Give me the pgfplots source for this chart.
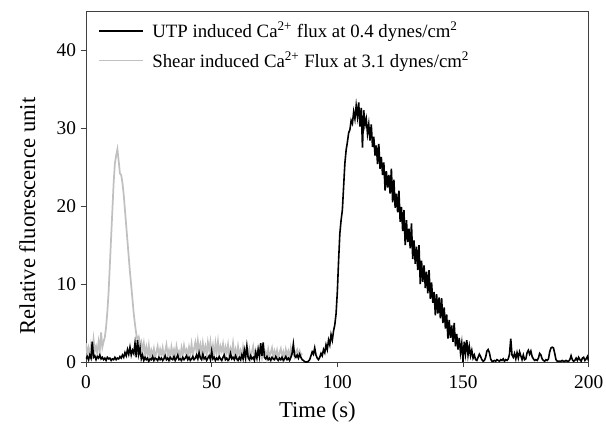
\documentclass[border=0pt]{standalone}
\usepackage{fontspec}
\setmainfont{Liberation Serif}
\usepackage{pgfplots}
\pgfplotsset{compat=1.18}
\definecolor{shear}{RGB}{192,192,192}

\begin{document}
\begin{tikzpicture}
\useasboundingbox (-64.5pt,-54.75pt) rectangle (390pt,271.5pt);
\begin{axis}[
    at={(0,0)}, anchor=south west,
    scale only axis,
    width=377pt, height=263pt,
    xmin=0, xmax=200, ymin=0, ymax=45,
    xtick={0,50,100,150,200},
    ytick={0,10,20,30,40},
    xtick pos=left, ytick pos=left,
    tick align=outside,
    major tick length=4pt,
    axis line style={black!75, line width=0.6pt},
    every tick/.style={black!75, line width=0.6pt},
    tick label style={font=\fontsize{14.5}{17}\selectfont},
    xticklabel style={yshift=-3pt},
    /pgf/number format/assume math mode=true,
    xlabel={Time (s)},
    ylabel={Relative fluorescence unit},
    label style={font=\fontsize{17}{20}\selectfont},
    xlabel style={yshift=-3pt, xshift=-15pt},
    ylabel style={yshift=9pt, xshift=-22pt},
    legend cell align=left,
    legend style={draw=none, fill=none, at={(0.016,0.985)}, anchor=north west,
      font=\fontsize{14.1}{17}\selectfont, row sep=5pt},
    legend image code/.code={\draw[#1] (0pt,0pt) -- (33pt,0pt); \path (37pt,0pt);},
]
\addlegendimage{black, line width=1.5pt}
\addlegendentry{UTP induced Ca\textsuperscript{2+} flux at 0.4 dynes/cm\textsuperscript{2}}
\addlegendimage{shear, line width=0.8pt}
\addlegendentry{Shear induced Ca\textsuperscript{2+} Flux at 3.1 dynes/cm\textsuperscript{2}}

% shear induced flux (grey)
\addplot[shear, line width=1.3pt, forget plot] table {
x y
0 2.4
0.5 1.0
1 1.8
1.5 0.8
2 2.2
2.5 1.2
3 2.9
3.5 1.4
4 2.0
4.5 1.1
5 2.6
5.5 1.5
6 3.8
6.5 1.9
7 2.6
7.5 3.2
8 4.5
8.5 6.5
9 9.0
9.5 12.5
10 16.0
10.5 19.5
11 23.0
11.5 25.5
12 26.5
12.5 27.3
13 25.8
13.5 24.2
14 24.0
14.5 23.0
15 21.5
15.5 19.5
16 17.5
16.5 15.5
17 13.5
17.5 11.5
18 9.8
18.5 8.0
19 6.2
19.5 4.8
20 3.6
20.5 2.8
21 3.2
21.5 2.2
22 2.6
22.5 1.4
23 2.4
23.5 1.0
24 1.9
24.5 0.8
25 2.1
25.5 0.6
26 1.5
26.5 0.9
27 1.7
27.5 0.5
28 1.3
28.5 2.0
29 0.7
29.5 1.6
30 0.9
30.5 1.8
31 0.6
31.5 1.4
32 2.2
32.5 0.8
33 1.5
33.5 0.5
34 1.9
34.5 1.0
35 1.6
35.5 0.7
36 2.0
36.5 1.1
37 1.4
37.5 0.6
38 1.8
38.5 0.9
39 2.1
39.5 1.2
40 1.6
40.5 0.8
41 1.9
41.5 1.1
42 2.3
42.5 0.9
43 1.7
43.5 2.5
44 1.2
44.5 2.7
45 1.4
45.5 2.2
46 0.9
46.5 2.4
47 1.3
47.5 2.0
48 0.8
48.5 2.5
49 1.5
49.5 2.6
50 1.0
50.5 2.1
51 0.7
51.5 2.4
52 1.2
52.5 2.6
53 0.9
53.5 2.0
54 1.4
54.5 2.3
55 0.8
55.5 1.9
56 1.2
56.5 2.2
57 0.6
57.5 1.7
58 1.1
58.5 2.4
59 0.9
59.5 1.6
60 0.6
60.5 2.0
61 1.0
61.5 1.5
62 0.5
62.5 1.9
63 0.8
63.5 1.4
64 2.1
64.5 0.7
65 1.6
65.5 0.5
66 1.3
66.5 2.0
67 0.8
67.5 1.5
68 0.6
68.5 1.8
69 1.0
69.5 1.4
70 0.5
70.5 1.7
71 0.9
71.5 1.3
72 0.4
72.5 1.6
73 0.7
73.5 1.2
74 1.8
74.5 0.6
75 1.4
75.5 0.8
76 1.5
76.5 0.5
77 1.2
77.5 1.7
78 0.7
78.5 1.3
79 0.5
79.5 1.6
80 0.9
80.5 1.4
81 0.6
81.5 1.8
82 1.0
82.5 1.5
83 0.7
83.5 1.3
84 1.6
84.5 0.8
85 1.4
85.5 0.9
86 1.1
};

% UTP induced flux (black)
\addplot[black, line width=1.2pt, forget plot] table {
x y
0 0.4
0.5 0.7
1 0.3
1.5 0.9
2 0.5
2.5 2.6
3 0.6
3.5 0.8
4 0.3
4.5 0.7
5 0.5
5.5 0.9
6 0.4
6.5 0.6
7 0.3
7.5 0.5
8 0.2
8.5 0.6
9 0.4
9.5 0.5
10 0.2
10.5 0.4
11 0.3
11.5 0.6
12 0.3
12.5 0.5
13 0.4
13.5 0.7
14 0.5
14.5 0.9
15 0.6
15.5 1.2
16 0.8
16.5 1.6
17 1.0
17.5 1.9
18 0.9
18.5 1.5
19 1.1
19.5 2.4
20 0.6
20.5 2.8
21 1.0
21.5 1.8
22 0.4
22.5 0.9
23 0.2
23.5 0.6
24 0.3
24.5 0.5
25 0.1
25.5 0.4
26 0.3
26.5 0.7
27 0.2
27.5 0.5
28 0.4
28.5 0.2
29 0.6
29.5 0.3
30 0.5
30.5 0.2
31 0.4
31.5 0.8
32 0.3
32.5 0.5
33 0.2
33.5 0.6
34 0.4
34.5 0.3
35 0.7
35.5 0.2
36 0.5
36.5 0.9
37 0.3
37.5 0.4
38 0.2
38.5 0.6
39 0.3
39.5 0.5
40 0.8
40.5 0.3
41 0.6
41.5 0.2
42 0.4
42.5 0.7
43 0.3
43.5 0.5
44 0.9
44.5 0.4
45 1.2
45.5 0.5
46 0.3
46.5 1.0
47 0.4
47.5 0.6
48 0.2
48.5 0.5
49 0.8
49.5 0.3
50 1.4
50.5 0.4
51 0.6
51.5 0.2
52 0.5
52.5 0.3
53 0.7
53.5 0.4
54 0.2
54.5 0.6
55 0.9
55.5 0.3
56 0.5
56.5 0.2
57 0.4
57.5 1.1
58 0.4
58.5 0.6
59 0.3
59.5 0.8
60 0.4
60.5 0.2
61 0.6
61.5 0.3
62 0.9
62.5 0.4
63 1.5
63.5 0.5
64 2.0
64.5 0.6
65 0.3
65.5 0.8
66 0.4
66.5 0.6
67 0.2
67.5 1.2
68 0.5
68.5 1.6
69 0.7
69.5 2.4
70 0.8
70.5 2.5
71 0.6
71.5 0.4
72 0.7
72.5 0.3
73 0.5
73.5 0.2
74 0.6
74.5 0.4
75 0.3
75.5 0.7
76 0.4
76.5 0.2
77 0.5
77.5 0.3
78 0.6
78.5 0.2
79 0.4
79.5 0.7
80 0.3
80.5 0.5
81 0.2
81.5 0.6
82 1.1
82.5 2.3
83 0.8
83.5 0.6
84 0.9
84.5 0.5
85 1.0
85.5 0.6
86 0.3
86.5 0.2
87 0.05
87.5 0
88 0
88.5 0.1
89 0.3
89.5 0.8
90 1.3
90.5 1.0
91 1.8
91.5 0.9
92 0.5
92.5 0.3
93 0.6
93.5 1.1
94 0.8
94.5 1.6
95 1.2
95.5 2.2
96 1.6
96.5 2.8
97 2.2
97.5 3.5
98 2.8
98.5 4.0
99 4.8
99.5 6.2
100 9.0
100.5 13.0
101 16.5
101.5 18.2
102 19.5
102.5 22.5
103 25.5
103.5 27.2
104 28.2
104.5 29.4
105 29.8
105.5 31.0
106 30.6
106.5 32.1
107 31.2
107.5 32.9
108 31.5
108.5 33.3
109 30.2
109.5 32.6
110 27.5
110.5 32.3
111 30.4
111.5 31.2
112 29.3
112.5 30.5
113 28.4
113.5 30.5
114 27.6
114.5 28.9
115 26.5
115.5 27.8
116 25.4
116.5 28.0
117 24.8
117.5 26.3
118 24.0
118.5 25.6
119 22.0
119.5 24.5
120 22.4
120.5 24.0
121 21.6
121.5 24.8
122 20.5
122.5 23.4
123 19.8
123.5 21.6
124 19.2
124.5 22.0
125 18.0
125.5 19.9
126 16.8
126.5 19.5
127 15.0
127.5 18.2
128 15.4
128.5 17.1
129 14.6
129.5 17.8
130 13.2
130.5 15.6
131 12.6
131.5 14.8
132 11.8
132.5 15.0
133 10.0
133.5 13.0
134 10.3
134.5 12.4
135 9.5
135.5 11.6
136 8.8
136.5 11.8
137 8.1
137.5 10.2
138 7.6
138.5 9.0
139 6.0
139.5 8.7
140 6.2
140.5 8.3
141 5.6
141.5 8.2
142 5.0
142.5 7.0
143 4.3
143.5 6.1
144 3.0
144.5 5.4
145 3.1
145.5 4.7
146 2.6
146.5 5.0
147 2.0
147.5 3.6
148 1.6
148.5 3.1
149 1.2
149.5 2.4
150 0
150.5 2.6
151 1.1
151.5 2.8
152 0.9
152.5 2.0
153 0.8
153.5 1.5
154 0.5
154.5 0.9
155 0.3
155.5 0.2
156 0.6
156.5 1.0
157 0.7
157.5 0.3
158 0.1
158.5 0.2
159 0.6
159.5 1.4
160 1.6
160.5 1.2
161 0.4
161.5 0.1
162 0.1
162.5 0.2
163 0.1
163.5 0.3
164 0.2
164.5 0.1
165 0.3
165.5 0.2
166 0.4
166.5 0.1
167 0.3
167.5 0.2
168 0.4
168.5 1.0
169 3.0
169.5 0.9
170 0.6
170.5 1.1
171 0.4
171.5 1.2
172 0.5
172.5 1.3
173 0.8
173.5 0.3
174 0.9
174.5 0.3
175 0.4
175.5 1.2
176 1.5
176.5 1.0
177 1.4
177.5 0.7
178 0.4
178.5 0.2
179 0.3
179.5 0.2
180 0.5
180.5 1.1
181 0.9
181.5 0.4
182 0.2
182.5 0.1
183 0.3
183.5 0.2
184 0.4
184.5 1.3
185 1.8
185.5 1.9
186 1.8
186.5 1.1
187 0.3
187.5 0.1
188 0.1
188.5 0.1
189 0.1
189.5 0.2
190 0.1
190.5 0.1
191 0.2
191.5 0.1
192 0.1
192.5 0.3
193 0.8
193.5 0.3
194 0.1
194.5 0.2
195 0.5
195.5 0.2
196 0.6
196.5 0.3
197 0.1
197.5 0.5
198 0.6
198.5 0.2
199 0.4
199.5 0.7
200 0.1
};
\end{axis}
\end{tikzpicture}
\end{document}
